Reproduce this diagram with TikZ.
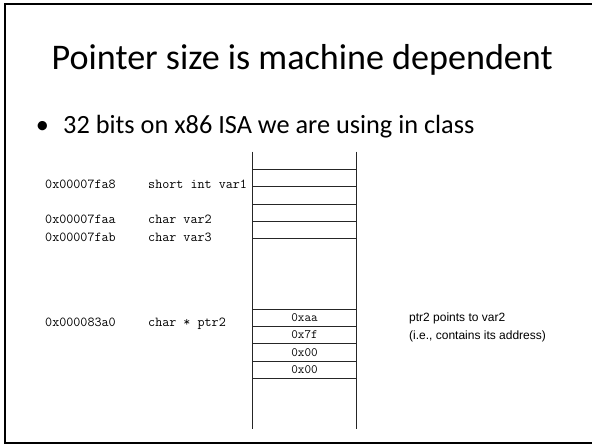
\documentclass[tikz,border=0pt]{standalone}
\usepackage{fontspec}
\setmainfont{Carlito}
\newfontfamily\notefont{Liberation Sans}
\usetikzlibrary{positioning}
\tikzset{
  every node/.style={inner sep=0pt}
}

\begin{document}
\begin{tikzpicture}[x=1pt,y=-1pt]
  % Define styles for memory cells and labels
  \tikzset{
    cell/.style={
      draw=black!85,
      line width=0.7pt,
      minimum width=104pt,
      minimum height=17.3pt,
      inner sep=0pt,
      outer sep=0pt,
      font=\ttfamily\fontsize{12.8}{14}\selectfont
    },
    code/.style={
      anchor=base west,
      font=\ttfamily\fontsize{13.7}{16}\selectfont
    },
    note/.style={
      anchor=base west,
      font=\notefont\fontsize{12}{14}\selectfont
    },
    wall/.style={
      draw=black!85,
      line width=0.8pt
    }
  }
  \useasboundingbox (0,0) rectangle (592,445);

  % Slide frame
  \draw[line width=2pt] (592,4) -- (5,4) -- (5,443) -- (592,443);

  % Title and bullet
  \node[anchor=base west, font=\fontsize{36.1}{43}\selectfont] (title) at (51.5,69.3) {Pointer size is machine dependent};
  \node[anchor=base, font=\fontsize{26.3}{31}\selectfont] (dot) at (42.5,133.3) {•};
  \node[anchor=base west, font=\fontsize{26.3}{31}\selectfont] (point) at (63,133.3) {32 bits on x86 ISA we are using in class};

  % Memory column
  \coordinate (topL) at (252.5,151.7);
  \coordinate (botL) at (252.5,429.3);
  \coordinate (topR) at (356.5,151.7);
  \coordinate (botR) at (356.5,429.3);
  \draw[wall] (topL) -- (botL);
  \draw[wall] (topR) -- (botR);

  % Cells near 0x00007fa8
  \node[cell] (c1) at (304.5,178) {};
  \node[cell, below=0pt of c1] (c2) {};
  \node[cell, below=0pt of c2] (c3) {};
  \node[cell, below=0pt of c3] (c4) {};

  % Cells of ptr2
  \node[cell] (p1) at (304.5,317.6) {0xaa};
  \node[cell, below=0pt of p1] (p2) {0x7f};
  \node[cell, below=0pt of p2] (p3) {0x00};
  \node[cell, below=0pt of p3] (p4) {0x00};

  % Addresses and declarations
  \node[code] (a1) at (45,188) {0x00007fa8};
  \node[code] (d1) at (148,188) {short int var1};
  \node[code] (a2) at (45,223.6) {0x00007faa};
  \node[code] (d2) at (148,223.6) {char var2};
  \node[code] (a3) at (45,241) {0x00007fab};
  \node[code] (d3) at (148,241) {char var3};
  \node[code] (a4) at (45,326.6) {0x000083a0};
  \node[code] (d4) at (148,326.6) {char * ptr2};

  % Note on the right
  \node[note] (n1) at (409,321.5) {ptr2 points to var2};
  \node[note] (n2) at (409,339) {(i.e., contains its address)};
\end{tikzpicture}
\end{document}
